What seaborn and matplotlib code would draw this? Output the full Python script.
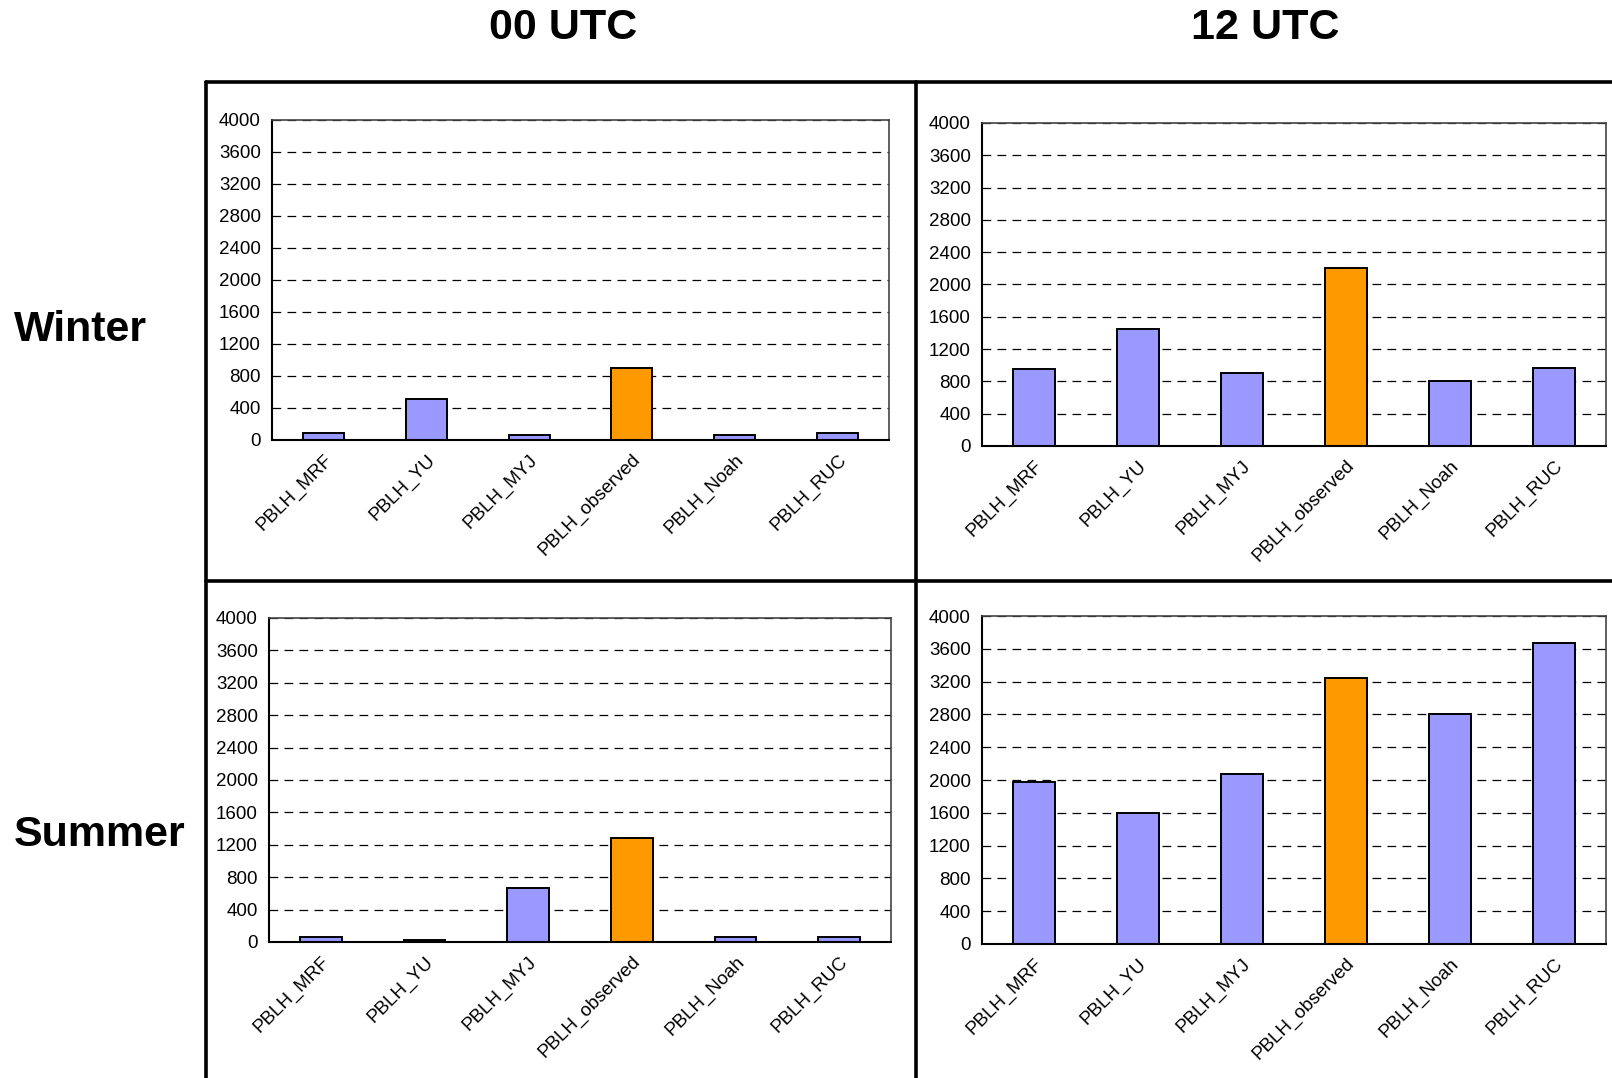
import matplotlib

matplotlib.use("Agg")
import matplotlib.pyplot as plt
import matplotlib.transforms as mtransforms
import pandas as pd
import seaborn as sns
from matplotlib.lines import Line2D

sns.set_style("white")
plt.rcParams["font.family"] = ["Liberation Sans", "DejaVu Sans"]
plt.rcParams["text.color"] = "black"
plt.rcParams["xtick.color"] = "black"
plt.rcParams["ytick.color"] = "black"

schemes = ["PBLH_MRF", "PBLH_YU", "PBLH_MYJ", "PBLH_observed", "PBLH_Noah", "PBLH_RUC"]
bar_colors = ["#9999FF", "#9999FF", "#9999FF", "#FF9900", "#9999FF", "#9999FF"]

winter_00 = [90, 510, 65, 900, 65, 90]
winter_12 = [950, 1450, 905, 2210, 800, 965]
summer_00 = [60, 20, 670, 1280, 60, 60]
summer_12 = [1975, 1600, 2070, 3250, 2800, 3665]

col_titles = ["00 UTC", "12 UTC"]
row_titles = ["Winter", "Summer"]
y_ticks = list(range(0, 4001, 400))

W, H = 1612, 1078


def fig_rect(left, top, right, bottom):
    # pixel box -> figure fraction rect
    return [left / W, 1 - bottom / H, (right - left) / W, (bottom - top) / H]


panels = [
    (winter_00, fig_rect(272, 120, 889, 440)),
    (winter_12, fig_rect(982, 123, 1606, 446)),
    (summer_00, fig_rect(269, 618, 891, 942)),
    (summer_12, fig_rect(982, 616, 1606, 944)),
]

fig = plt.figure(figsize=(W / 100, H / 100), dpi=100)
label_shift = mtransforms.ScaledTranslation(-8 / 100, 0, fig.dpi_scale_trans)

for values, rect in panels:
    ax = fig.add_axes(rect)
    df = pd.DataFrame({"scheme": schemes, "pblh": values})
    sns.barplot(
        data=df,
        x="scheme",
        y="pblh",
        hue="scheme",
        palette=bar_colors,
        saturation=1,
        legend=False,
        width=0.4,
        edgecolor="black",
        linewidth=1.4,
        ax=ax,
    )
    ax.set_xlim(-0.5, len(schemes) - 0.5)
    ax.set_ylim(0, 4000)
    ax.set_yticks(y_ticks)
    ax.set_yticklabels([str(t) for t in y_ticks], fontsize=13.5)
    ax.set_xticks(range(len(schemes)))
    ax.set_xticklabels(schemes, rotation=45, ha="right", va="top",
                       rotation_mode="anchor", fontsize=13.5)
    for lbl in ax.get_xticklabels():
        lbl.set_transform(lbl.get_transform() + label_shift)
    ax.set_xticks([i - 0.5 for i in range(len(schemes) + 1)], minor=True)
    ax.tick_params(axis="x", which="major", length=0, pad=8)
    ax.tick_params(axis="x", which="minor", length=6, width=1.2, color="black", direction="out")
    ax.tick_params(axis="y", length=5, width=1.2, color="black", direction="out", pad=3)
    ax.set_xlabel("")
    ax.set_ylabel("")
    ax.yaxis.grid(True, linestyle=(0, (7, 5)), color="black", linewidth=0.9)
    ax.set_axisbelow(True)
    for side in ["left", "bottom"]:
        ax.spines[side].set_color("black")
        ax.spines[side].set_linewidth(1.5)
    for side in ["top", "right"]:
        ax.spines[side].set_color("#444444")
        ax.spines[side].set_linewidth(1.2)

# column and row headings
fig.text(563 / W, 1 - 28 / H, col_titles[0], ha="center", va="center", fontsize=31, fontweight="bold")
fig.text(1265 / W, 1 - 28 / H, col_titles[1], ha="center", va="center", fontsize=31, fontweight="bold")
fig.text(14 / W, 1 - 330 / H, row_titles[0], ha="left", va="center", fontsize=31, fontweight="bold")
fig.text(14 / W, 1 - 835 / H, row_titles[1], ha="left", va="center", fontsize=31, fontweight="bold")

# table frame lines
frame = dict(color="black", linewidth=2.6, transform=fig.transFigure)
fig.add_artist(Line2D([206 / W, 1], [1 - 82 / H, 1 - 82 / H], **frame))
fig.add_artist(Line2D([206 / W, 1], [1 - 581 / H, 1 - 581 / H], **frame))
fig.add_artist(Line2D([206 / W, 206 / W], [0, 1 - 82 / H], **frame))
fig.add_artist(Line2D([916 / W, 916 / W], [0, 1 - 82 / H], **frame))

fig.savefig("out.png", dpi=100)
